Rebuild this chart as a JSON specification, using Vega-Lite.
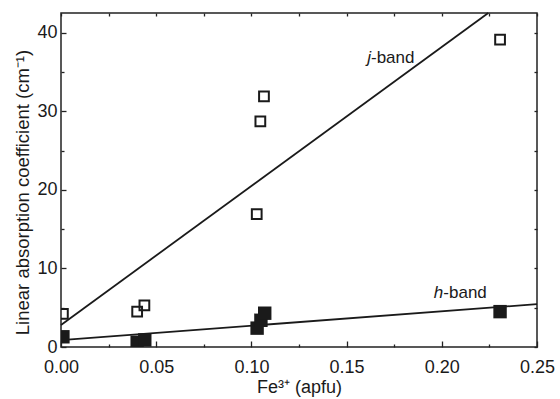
{
  "$schema": "https://vega.github.io/schema/vega-lite/v6.json",
  "width": 476,
  "height": 334,
  "autosize": "none",
  "padding": {"left": 61, "top": 13, "right": 23, "bottom": 52},
  "background": "white",
  "config": {
    "font": "Liberation Sans",
    "view": {"stroke": "#222222", "strokeWidth": 1.5},
    "axis": {"grid": false, "domain": false, "labelFont": "Liberation Sans", "titleFont": "Liberation Sans", "labelColor": "#1a1a1a", "titleColor": "#1a1a1a", "tickColor": "#222222", "tickWidth": 1.3, "titleFontWeight": "normal"}
  },
  "datasets": {
    "pts": [
      {"fe": 0.001, "coef": 4.2, "band": "j"},
      {"fe": 0.040, "coef": 4.5, "band": "j"},
      {"fe": 0.0438, "coef": 5.3, "band": "j"},
      {"fe": 0.1028, "coef": 16.9, "band": "j"},
      {"fe": 0.1047, "coef": 28.7, "band": "j"},
      {"fe": 0.1066, "coef": 31.9, "band": "j"},
      {"fe": 0.2306, "coef": 39.1, "band": "j"},
      {"fe": 0.001, "coef": 1.3, "band": "h"},
      {"fe": 0.040, "coef": 0.6, "band": "h"},
      {"fe": 0.044, "coef": 0.9, "band": "h"},
      {"fe": 0.103, "coef": 2.4, "band": "h"},
      {"fe": 0.105, "coef": 3.4, "band": "h"},
      {"fe": 0.107, "coef": 4.3, "band": "h"},
      {"fe": 0.2306, "coef": 4.5, "band": "h"}
    ],
    "fits": [
      {"fe": 0, "coef": 2.8, "band": "j"},
      {"fe": 0.2244, "coef": 42.5, "band": "j"},
      {"fe": 0, "coef": 0.88, "band": "h"},
      {"fe": 0.25, "coef": 5.45, "band": "h"}
    ],
    "labels": [
      {"fe": 0.1628, "coef": 36.2, "part": "letter", "text": "j"},
      {"fe": 0.1628, "coef": 36.2, "part": "rest", "text": "-band"},
      {"fe": 0.2008, "coef": 6.18, "part": "letter", "text": "h"},
      {"fe": 0.2008, "coef": 6.18, "part": "rest", "text": "-band"}
    ]
  },
  "resolve": {"axis": {"x": "independent", "y": "independent"}},
  "layer": [
    {
      "data": {"name": "fits"},
      "transform": [{"filter": "datum.band == 'j'"}],
      "mark": {"type": "line", "color": "#1a1a1a", "strokeWidth": 1.8},
      "encoding": {
        "x": {"field": "fe", "type": "quantitative", "scale": {"domain": [0, 0.25], "nice": false, "zero": false},
          "axis": {"orient": "bottom", "title": "Fe³⁺ (apfu)", "titleFontSize": 18, "titleY": 31, "titleBaseline": "top",
            "values": [0, 0.025, 0.05, 0.075, 0.1, 0.125, 0.15, 0.175, 0.2, 0.225, 0.25],
            "labelExpr": "round(datum.value*40) % 2 == 0 ? format(datum.value, '.2f') : ''",
            "labelFontSize": 18, "labelPadding": 17, "labelFlush": false, "labelOverlap": false,
            "tickSize": {"condition": {"test": "round(datum.value*40) % 2 == 0", "value": -6}, "value": -3}}},
        "y": {"field": "coef", "type": "quantitative", "scale": {"domain": [0, 42.5], "nice": false, "zero": false},
          "axis": {"orient": "left", "title": "Linear absorption coefficient (cm⁻¹)", "titleFontSize": 18.5, "titlePadding": 4, "titleY": 179,
            "values": [0, 5, 10, 15, 20, 25, 30, 35, 40],
            "labelExpr": "round(datum.value) % 10 == 0 ? format(datum.value, 'd') : ''",
            "labelFontSize": 18, "labelPadding": 9, "labelFlush": false, "labelOverlap": false,
            "tickSize": {"condition": {"test": "round(datum.value) % 10 == 0", "value": -5}, "value": -3}}}
      }
    },
    {
      "data": {"name": "fits"},
      "transform": [{"filter": "datum.band == 'h'"}],
      "mark": {"type": "line", "color": "#1a1a1a", "strokeWidth": 1.8},
      "encoding": {
        "x": {"field": "fe", "type": "quantitative",
          "axis": {"orient": "top", "title": null, "labels": false, "tickSize": -3,
            "values": [0, 0.025, 0.05, 0.075, 0.1, 0.125, 0.15, 0.175, 0.2, 0.225, 0.25]}},
        "y": {"field": "coef", "type": "quantitative",
          "axis": {"orient": "right", "title": null, "labels": false, "tickSize": -3,
            "values": [0, 5, 10, 15, 20, 25, 30, 35, 40]}}
      }
    },
    {
      "data": {"name": "pts"},
      "transform": [{"filter": "datum.band == 'j'"}],
      "mark": {"type": "point", "shape": "square", "filled": false, "stroke": "#1a1a1a", "strokeWidth": 2, "size": 95, "opacity": 1, "clip": true},
      "encoding": {
        "x": {"field": "fe", "type": "quantitative", "axis": null},
        "y": {"field": "coef", "type": "quantitative", "axis": null}
      }
    },
    {
      "data": {"name": "pts"},
      "transform": [{"filter": "datum.band == 'h'"}],
      "mark": {"type": "point", "shape": "square", "filled": true, "color": "#1a1a1a", "size": 180, "opacity": 1, "clip": true},
      "encoding": {
        "x": {"field": "fe", "type": "quantitative", "axis": null},
        "y": {"field": "coef", "type": "quantitative", "axis": null}
      }
    },
    {
      "data": {"name": "labels"},
      "transform": [{"filter": "datum.part == 'letter'"}],
      "mark": {"type": "text", "align": "right", "baseline": "alphabetic", "fontSize": 17, "fontStyle": "italic", "color": "#1a1a1a", "font": "Liberation Sans"},
      "encoding": {
        "x": {"field": "fe", "type": "quantitative", "axis": null},
        "y": {"field": "coef", "type": "quantitative", "axis": null},
        "text": {"field": "text"}
      }
    },
    {
      "data": {"name": "labels"},
      "transform": [{"filter": "datum.part == 'rest'"}],
      "mark": {"type": "text", "align": "left", "baseline": "alphabetic", "fontSize": 17, "color": "#1a1a1a", "font": "Liberation Sans"},
      "encoding": {
        "x": {"field": "fe", "type": "quantitative", "axis": null},
        "y": {"field": "coef", "type": "quantitative", "axis": null},
        "text": {"field": "text"}
      }
    }
  ]
}
